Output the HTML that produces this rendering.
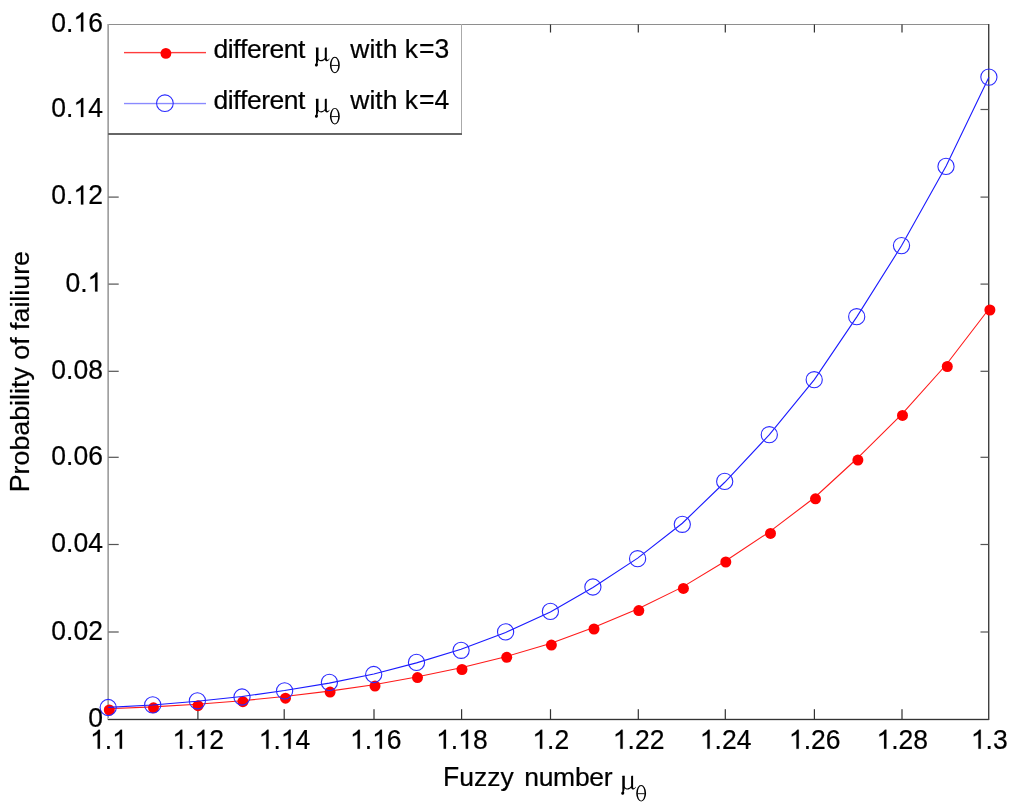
<!DOCTYPE html>
<html><head><meta charset="utf-8"><style>
html,body{margin:0;padding:0;background:#fff;}
svg{display:block;will-change:transform;}
text{font-family:"Liberation Sans",sans-serif;font-size:26.5px;fill:#000;stroke:#000;stroke-width:0.22px;}
</style></head><body>
<svg width="1024" height="809" viewBox="0 0 1024 809">
<defs><path id="one" d="M9.87,0 L7.54,0 L7.54,-14.84 C6.3,-13.7 4.6,-12.8 2.89,-12.23 L2.89,-14.47 C5.2,-15.6 7.2,-17.3 8.36,-18.97 L9.87,-18.97 Z" stroke="#000" stroke-width="0.22"/><g id="mt"><path d="M-0.6,-9.5 L0.2,-10.1 L2.5,-10.1 L2.5,0.2 C2.5,1.9 3.6,2.5 5,2.5 C6.6,2.5 7.9,1.5 8.8,0.2 L8.8,-9.6 L9.4,-10.1 L10.8,-10.1 L10.8,1 C10.8,1.9 11.2,2.3 11.8,2.3 C12.3,2.3 12.8,1.8 13.2,0.9 L13.6,1.2 C13,2.8 12.1,3.6 10.9,3.6 C9.9,3.6 9.1,3 8.8,1.8 C8,3 6.7,3.6 5.2,3.6 C4,3.6 3,3.1 2.4,2.3 C2.2,3.6 1.8,4.8 1.5,5.9 C2.0,6.3 2.0,7.0 1.9,7.6 C1.7,8.5 1.0,8.9 0.3,8.9 C-0.6,8.9 -1.1,8.2 -1.1,7.4 C-1.1,6.6 -0.6,6.0 0.0,5.6 C0.2,4.6 0,3.6 0,2.5 L0,-9.3 Z"/><path d="M13.900000000000002,7.4 A4.95,8.2 0 1,0 23.8,7.4 A4.95,8.2 0 1,0 13.900000000000002,7.4 Z M15.500000000000002,7.4 A3.35,7.35 0 1,0 22.200000000000003,7.4 A3.35,7.35 0 1,0 15.500000000000002,7.4 Z" fill-rule="evenodd"/><path d="M15.3,7.35 L22.4,7.35 L22.4,8.25 L15.3,8.25 Z"/></g></defs>
<rect width="1024" height="809" fill="#fff"/>
<g shape-rendering="crispEdges">
<rect x="108" y="24" width="881" height="1" fill="#8e8e8e"/>
<rect x="107" y="24" width="1" height="696" fill="#bdbdbd"/>
<rect x="108" y="24" width="1" height="696" fill="#a0a0a0"/>
<rect x="108" y="718" width="881" height="1" fill="#d8d8d8"/>
<rect x="108" y="720" width="881" height="1" fill="#e0e0e0"/>
<rect x="108" y="719" width="881" height="1" fill="#333"/>
<rect x="988" y="24" width="1" height="696" fill="#404040"/>
<rect x="989" y="24" width="1" height="696" fill="#b0b0b0"/>
</g>
<g fill="#333"><rect x="197.30" y="709.2" width="1.2" height="10"/><rect x="283.60" y="709.2" width="1.2" height="10"/><rect x="373.40" y="709.2" width="1.2" height="10"/><rect x="461.00" y="709.2" width="1.2" height="10"/><rect x="549.90" y="709.2" width="1.2" height="10"/><rect x="549.90" y="24.5" width="1.2" height="8"/><rect x="637.70" y="709.2" width="1.2" height="10"/><rect x="637.70" y="24.5" width="1.2" height="8"/><rect x="724.70" y="709.2" width="1.2" height="10"/><rect x="724.70" y="24.5" width="1.2" height="8"/><rect x="813.80" y="709.2" width="1.2" height="10"/><rect x="813.80" y="24.5" width="1.2" height="8"/><rect x="901.40" y="709.2" width="1.2" height="10"/><rect x="901.40" y="24.5" width="1.2" height="8"/></g>
<g fill="#555"><rect x="108.5" y="631.40" width="10.2" height="1.2"/><rect x="980.5" y="631.40" width="8" height="1.2"/><rect x="108.5" y="543.90" width="10.2" height="1.2"/><rect x="980.5" y="543.90" width="8" height="1.2"/><rect x="108.5" y="456.70" width="10.2" height="1.2"/><rect x="980.5" y="456.70" width="8" height="1.2"/><rect x="108.5" y="370.70" width="10.2" height="1.2"/><rect x="980.5" y="370.70" width="8" height="1.2"/><rect x="108.5" y="283.50" width="10.2" height="1.2"/><rect x="980.5" y="283.50" width="8" height="1.2"/><rect x="108.5" y="196.50" width="10.2" height="1.2"/><rect x="980.5" y="196.50" width="8" height="1.2"/><rect x="980.5" y="108.90" width="8" height="1.2"/></g>
<path d="M108.25,708.70 L152.60,706.90 L197.20,704.24 L241.95,700.76 L284.55,696.43 L329.25,691.14 L373.85,684.75 L416.50,677.06 L461.05,667.81 L505.65,656.72 L550.40,643.47 L592.95,627.70 L637.70,609.05 L682.35,587.12 L724.75,561.53 L769.40,531.87 L814.35,497.75 L856.80,458.77 L901.50,414.55 L946.15,364.75 L988.90,309.03" fill="none" stroke="#ff1a1a" stroke-width="1.1"/>
<g fill="#f00"><circle cx="109.30" cy="710.00" r="5.5"/><circle cx="153.50" cy="707.80" r="5.5"/><circle cx="198.00" cy="705.70" r="5.5"/><circle cx="242.90" cy="701.70" r="5.5"/><circle cx="285.50" cy="698.20" r="5.5"/><circle cx="330.10" cy="692.10" r="5.5"/><circle cx="375.00" cy="686.10" r="5.5"/><circle cx="417.50" cy="677.60" r="5.5"/><circle cx="462.00" cy="669.50" r="5.5"/><circle cx="506.70" cy="657.30" r="5.5"/><circle cx="551.40" cy="645.10" r="5.5"/><circle cx="594.00" cy="629.00" r="5.5"/><circle cx="638.80" cy="610.60" r="5.5"/><circle cx="683.40" cy="588.40" r="5.5"/><circle cx="725.80" cy="562.00" r="5.5"/><circle cx="770.50" cy="533.40" r="5.5"/><circle cx="815.50" cy="498.80" r="5.5"/><circle cx="857.90" cy="460.10" r="5.5"/><circle cx="902.50" cy="415.40" r="5.5"/><circle cx="947.30" cy="366.50" r="5.5"/><circle cx="989.90" cy="310.00" r="5.5"/></g>
<path d="M108.25,707.39 L152.60,704.95 L197.20,701.31 L241.95,696.53 L284.55,690.53 L329.25,683.13 L373.85,674.03 L416.50,662.86 L461.05,649.16 L505.65,632.42 L550.40,612.06 L592.95,587.50 L637.70,558.09 L682.35,523.22 L724.75,482.26 L769.40,434.59 L814.35,379.64 L856.80,316.87 L901.50,245.80 L946.15,166.03 L988.90,77.22" fill="none" stroke="#1a1aff" stroke-width="1.1"/>
<g fill="none" stroke="#2a2aff" stroke-width="1.1"><circle cx="108.20" cy="707.50" r="8.1"/><circle cx="152.70" cy="704.90" r="8.1"/><circle cx="197.40" cy="700.80" r="8.1"/><circle cx="242.00" cy="697.00" r="8.1"/><circle cx="284.60" cy="690.90" r="8.1"/><circle cx="329.40" cy="682.40" r="8.1"/><circle cx="373.70" cy="674.50" r="8.1"/><circle cx="416.50" cy="662.40" r="8.1"/><circle cx="461.10" cy="650.30" r="8.1"/><circle cx="505.60" cy="631.90" r="8.1"/><circle cx="550.40" cy="611.40" r="8.1"/><circle cx="592.90" cy="587.00" r="8.1"/><circle cx="637.60" cy="558.70" r="8.1"/><circle cx="682.30" cy="524.30" r="8.1"/><circle cx="724.70" cy="481.40" r="8.1"/><circle cx="769.30" cy="434.70" r="8.1"/><circle cx="814.20" cy="379.70" r="8.1"/><circle cx="856.70" cy="316.70" r="8.1"/><circle cx="901.50" cy="245.60" r="8.1"/><circle cx="946.00" cy="166.40" r="8.1"/><circle cx="988.90" cy="77.10" r="8.1"/></g>
<rect x="108" y="24" width="353" height="110" fill="#fff"/>
<g shape-rendering="crispEdges">
<rect x="108" y="24" width="354" height="1" fill="#8e8e8e"/>
<rect x="108" y="24" width="1" height="110" fill="#a0a0a0"/>
<rect x="461" y="24" width="1" height="111" fill="#aaa"/>
<rect x="108" y="133" width="354" height="2" fill="#666"/>
</g>
<g shape-rendering="crispEdges"><rect x="124" y="52" width="82" height="1" fill="#ff3c3c"/><rect x="124" y="53" width="82" height="1" fill="#ffc4c4"/><rect x="124" y="51" width="82" height="1" fill="#ffeeee"/></g>
<circle cx="165.9" cy="53.4" r="5.4" fill="#f00"/>
<g shape-rendering="crispEdges"><rect x="124" y="103" width="82" height="1" fill="#8a8aff"/><rect x="124" y="102" width="82" height="1" fill="#eeeeff"/><rect x="124" y="104" width="82" height="1" fill="#e4e4ff"/></g>
<circle cx="164.9" cy="103.2" r="8.35" fill="none" stroke="#2a2aff" stroke-width="1.05"/>
<g transform="translate(213.60,57.60)"><text x="0.00 14.24 19.63 26.49 33.35 47.59 55.91 70.15 84.39" y="0" transform="scale(1,0.99)" style="font-size:26.5px">different</text></g>
<use href="#mt" transform="translate(316.0,57.6)"/>
<g transform="translate(350.30,57.60)"><text x="0.00 19.14 25.02 32.39 47.13 54.49" y="0" transform="scale(1,0.99)" style="font-size:26.5px">with&#160;k</text></g><g transform="translate(419.10,57.60)"><text x="0.00 15.48" y="0" transform="scale(1,1.04)" style="font-size:26.5px">=3</text></g>
<g transform="translate(213.60,108.80)"><text x="0.00 14.24 19.63 26.49 33.35 47.59 55.91 70.15 84.39" y="0" transform="scale(1,0.99)" style="font-size:26.5px">different</text></g>
<use href="#mt" transform="translate(316.0,108.8)"/>
<g transform="translate(350.30,108.80)"><text x="0.00 19.14 25.02 32.39 47.13 54.49" y="0" transform="scale(1,0.99)" style="font-size:26.5px">with&#160;k</text></g><g transform="translate(419.10,108.80)"><text x="0.00 15.48" y="0" transform="scale(1,1.04)" style="font-size:26.5px">=4</text></g>
<use href="#one" x="90.08" y="748.70"/><text transform="translate(104.82,748.70) scale(1,1.04)">.</text><use href="#one" x="112.18" y="748.70"/><use href="#one" x="172.41" y="748.70"/><text transform="translate(187.15,748.70) scale(1,1.04)">.</text><use href="#one" x="194.51" y="748.70"/><text transform="translate(209.25,748.70) scale(1,1.04)">2</text><use href="#one" x="258.71" y="748.70"/><text transform="translate(273.45,748.70) scale(1,1.04)">.</text><use href="#one" x="280.81" y="748.70"/><text transform="translate(295.55,748.70) scale(1,1.04)">4</text><use href="#one" x="350.01" y="748.70"/><text transform="translate(364.75,748.70) scale(1,1.04)">.</text><use href="#one" x="372.11" y="748.70"/><text transform="translate(386.85,748.70) scale(1,1.04)">6</text><use href="#one" x="436.11" y="748.70"/><text transform="translate(450.85,748.70) scale(1,1.04)">.</text><use href="#one" x="458.21" y="748.70"/><text transform="translate(472.95,748.70) scale(1,1.04)">8</text><use href="#one" x="532.38" y="748.70"/><text transform="translate(547.12,748.70) scale(1,1.04)">.2</text><use href="#one" x="612.81" y="748.70"/><text transform="translate(627.55,748.70) scale(1,1.04)">.22</text><use href="#one" x="699.81" y="748.70"/><text transform="translate(714.55,748.70) scale(1,1.04)">.24</text><use href="#one" x="788.91" y="748.70"/><text transform="translate(803.65,748.70) scale(1,1.04)">.26</text><use href="#one" x="876.51" y="748.70"/><text transform="translate(891.25,748.70) scale(1,1.04)">.28</text><use href="#one" x="970.88" y="748.70"/><text transform="translate(985.62,748.70) scale(1,1.04)">.3</text><text transform="translate(88.16,727.19) scale(1,1.04)">0</text><text transform="translate(51.32,639.59) scale(1,1.04)">0.02</text><text transform="translate(51.32,552.24) scale(1,1.04)">0.04</text><text transform="translate(51.32,464.94) scale(1,1.04)">0.06</text><text transform="translate(51.32,379.24) scale(1,1.04)">0.08</text><text transform="translate(65.46,291.54) scale(1,1.04)">0.</text><use href="#one" x="87.56" y="291.54"/><text transform="translate(51.32,204.44) scale(1,1.04)">0.</text><use href="#one" x="73.42" y="204.44"/><text transform="translate(88.16,204.44) scale(1,1.04)">2</text><text transform="translate(51.32,116.94) scale(1,1.04)">0.</text><use href="#one" x="73.42" y="116.94"/><text transform="translate(88.16,116.94) scale(1,1.04)">4</text><text transform="translate(51.32,31.59) scale(1,1.04)">0.</text><use href="#one" x="73.42" y="31.59"/><text transform="translate(88.16,31.59) scale(1,1.04)">6</text>
<g transform="translate(443.00,785.90)"><text x="0.00" y="0" transform="scale(1,1.04)" style="font-size:26.5px">F</text><text x="16.19 30.93 44.18 57.43" y="0" transform="scale(1,0.99)" style="font-size:26.5px">uzzy</text></g>
<g transform="translate(524.20,785.90)"><text x="0.00 14.46 28.92 50.71 65.17 79.63" y="0" transform="scale(1,0.99)" style="font-size:26.5px">number</text></g>
<use href="#mt" transform="translate(622.3,785.9)"/>
<g transform="translate(29.20,492.30) rotate(-90)"><text x="0.00" y="0" transform="scale(1,1.04)" style="font-size:26.8px">P</text><text x="17.88 26.80 41.70 56.61 71.51 86.42 92.37 98.33 104.28 111.73 125.13 132.57 147.48 154.92 162.37 169.82 184.72 190.68 196.63 202.58 217.49 226.41" y="0" transform="scale(1,0.99)" style="font-size:26.8px">robability&#160;of&#160;failiure</text></g>
</svg>
</body></html>
